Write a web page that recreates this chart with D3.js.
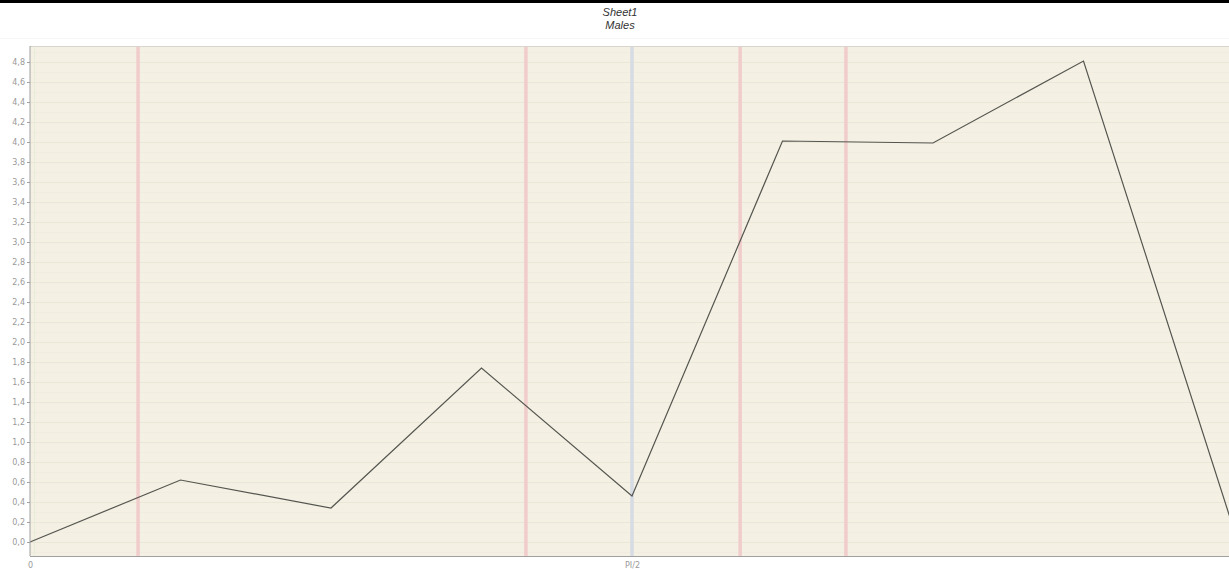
<!DOCTYPE html>
<html lang="en">
<head>
    <meta charset="utf-8">
    <title>Sheet1 - Males</title>
    <style>
        body {
            margin: 0;
            background: #fff;
            font: 9px "DejaVu Sans", sans-serif;
        }
        .title {
            font: italic 11px "Liberation Sans", Arial, sans-serif;
            fill: #333;
        }
        .axis text {
            fill: #9a9a9a;
            font: 8px "DejaVu Sans", sans-serif;
        }
        .axis path, .axis line {
            stroke: #a0a0a0;
        }
    </style>
</head>
<body>
<svg class="chart"></svg>
<script src="https://cdnjs.cloudflare.com/ajax/libs/d3/7.8.5/d3.min.js"></script>
<script>

  const width = 1229;
  const height = 569;

  // x positions of the samples, in radians (k * PI/8)
  const xValues = [0, 1, 2, 3, 4, 5, 6, 7, 8].map(k => k * Math.PI / 8);
  const males = [0.0, 0.62, 0.34, 1.74, 0.46, 4.01, 3.99, 4.81, 0.12];

  // marker lines
  const redMarkers = [0.282, 1.294, 1.853, 2.129];
  const blueMarkers = [Math.PI / 2];

  const yTicks = d3.range(0, 49, 2).map(d => d / 10);
  const yMinor = d3.range(-1, 50, 1).map(d => d / 10);
  const xTicks = [0, Math.PI / 2];
  const xTickLabels = ["0", "PI/2"];

  const margin = {top: 46, left: 30, bottom: 13};

  const x = d3.scaleLinear()
    .domain([0, Math.PI])
    .range([margin.left, 1234]);

  const y = d3.scaleLinear()
    .domain([-0.14, 4.96])
    .range([height - margin.bottom, margin.top]);

  const svg = d3.select(".chart")
    .attr("width", width)
    .attr("height", height);

  // black bar along the top
  svg.append("rect")
    .attr("x", 0).attr("y", 0)
    .attr("width", width).attr("height", 3)
    .attr("fill", "#000");

  svg.append("line")
    .attr("x1", 0).attr("x2", width)
    .attr("y1", 38.5).attr("y2", 38.5)
    .attr("stroke", "#f6f6f6");

  svg.append("text").attr("class", "title")
    .attr("x", 620).attr("y", 16)
    .attr("text-anchor", "middle")
    .text("Sheet1");
  svg.append("text").attr("class", "title")
    .attr("x", 620).attr("y", 29)
    .attr("text-anchor", "middle")
    .text("Males");

  const plotTop = y.range()[1];
  const plotBottom = y.range()[0];

  // plot background
  svg.append("rect")
    .attr("x", x(0)).attr("y", plotTop)
    .attr("width", x.range()[1] - x(0))
    .attr("height", plotBottom - plotTop)
    .attr("fill", "#f4f1e4");

  // minor + major grid
  svg.append("g")
    .selectAll("line")
    .data(yMinor.filter(d => y(d) > plotTop && y(d) < plotBottom))
    .enter()
    .append("line")
    .attr("x1", x(0)).attr("x2", x.range()[1])
    .attr("y1", d => Math.round(y(d)) + 0.5)
    .attr("y2", d => Math.round(y(d)) + 0.5)
    .attr("stroke", d => Math.round(d * 10) % 2 === 0 ? "#ebe7d7" : "#f0ede0")
    .attr("stroke-width", 1);

  // faint vertical grid near the origin
  svg.append("line")
    .attr("x1", x(0) + 4.5).attr("x2", x(0) + 4.5)
    .attr("y1", plotTop).attr("y2", plotBottom)
    .attr("stroke", "#e9eed8");

  // marker lines
  svg.append("g")
    .selectAll("line")
    .data(redMarkers)
    .enter()
    .append("line")
    .attr("x1", d => x(d)).attr("x2", d => x(d))
    .attr("y1", plotTop).attr("y2", plotBottom)
    .attr("stroke", "#f0cccb")
    .attr("stroke-width", 3.5);

  svg.append("g")
    .selectAll("line")
    .data(blueMarkers)
    .enter()
    .append("line")
    .attr("x1", d => x(d)).attr("x2", d => x(d))
    .attr("y1", plotTop).attr("y2", plotBottom)
    .attr("stroke", "#d6dbe4")
    .attr("stroke-width", 3.5);

  // plot top border
  svg.append("line")
    .attr("x1", x(0)).attr("x2", width)
    .attr("y1", plotTop + 0.5).attr("y2", plotTop + 0.5)
    .attr("stroke", "#d8d6cc");

  // series line
  const line = d3.line()
    .x((d, i) => x(xValues[i]))
    .y(d => y(d));

  svg.append("path")
    .datum(males)
    .attr("fill", "none")
    .attr("stroke", "#555550")
    .attr("stroke-width", 1.2)
    .attr("d", line);

  // axes
  const comma = d => d3.format(".1f")(d).replace(".", ",");

  const yAxis = d3.axisLeft(y)
    .tickValues(yTicks)
    .tickSize(3)
    .tickPadding(2)
    .tickFormat(comma);
  svg.append("g")
    .attr("class", "axis")
    .attr("transform", `translate(${x(0)},0)`)
    .call(yAxis)
    .call(g => g.select(".domain").attr("d", `M0,${plotTop}V${plotBottom}`));

  const xAxis = d3.axisBottom(x)
    .tickValues(xTicks)
    .tickSize(0)
    .tickPadding(6)
    .tickFormat((d, i) => xTickLabels[i]);
  svg.append("g")
    .attr("class", "axis")
    .attr("transform", `translate(0,${plotBottom})`)
    .call(xAxis)
    .call(g => g.select(".domain").attr("d", `M${x(0)},0.5H${width}`));

</script>
</body>
</html>
